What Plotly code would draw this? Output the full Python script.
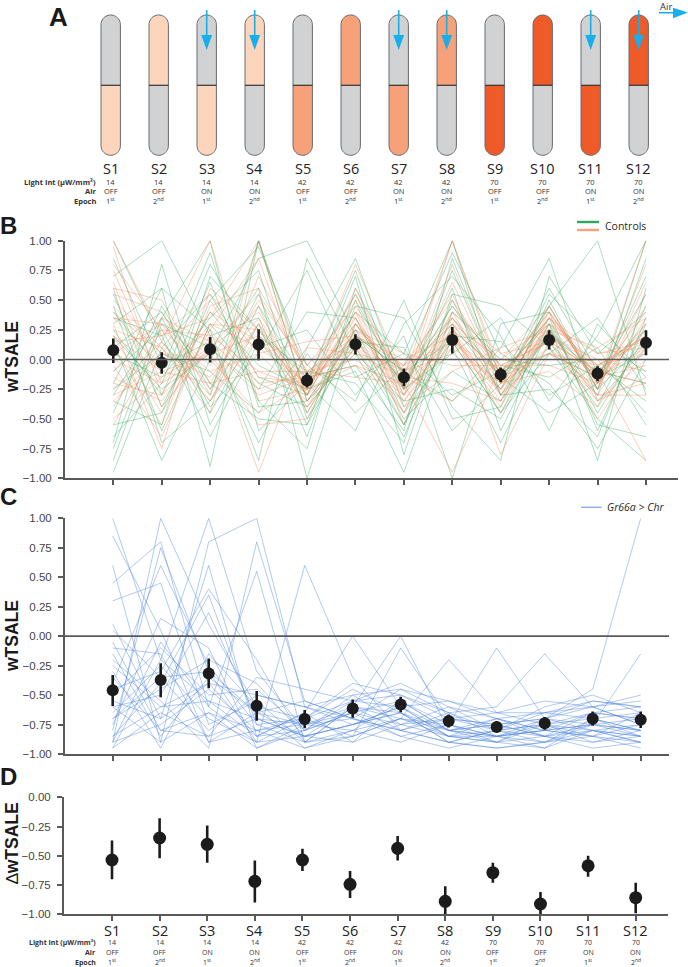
import numpy as np
import plotly.graph_objects as go

W, H = 688, 967

# ---------------- data ----------------
sessions = ["S1", "S2", "S3", "S4", "S5", "S6", "S7", "S8", "S9", "S10", "S11", "S12"]
light_int = ["14", "14", "14", "14", "42", "42", "42", "42", "70", "70", "70", "70"]
air_state = ["OFF", "OFF", "ON", "ON", "OFF", "OFF", "ON", "ON", "OFF", "OFF", "ON", "ON"]
epoch_num = ["1", "2", "1", "2", "1", "2", "1", "2", "1", "2", "1", "2"]
epoch_suf = ["st", "nd", "st", "nd", "st", "nd", "st", "nd", "st", "nd", "st", "nd"]
lit_half = ["bottom", "top", "bottom", "top", "bottom", "top", "bottom", "top", "bottom", "top", "bottom", "top"]

# Panel B: controls, mean and 95% CI
b_mean = [0.078, -0.028, 0.087, 0.126, -0.177, 0.129, -0.149, 0.165, -0.127, 0.165, -0.118, 0.140]
b_hi = [0.177, 0.060, 0.190, 0.255, -0.110, 0.213, -0.076, 0.274, -0.067, 0.247, -0.056, 0.247]
b_lo = [-0.030, -0.120, -0.025, -0.006, -0.236, 0.042, -0.225, 0.050, -0.190, 0.084, -0.183, 0.036]

# Panel C: Gr66a > Chr
c_mean = [-0.460, -0.373, -0.316, -0.590, -0.703, -0.613, -0.580, -0.720, -0.770, -0.740, -0.700, -0.710]
c_hi = [-0.330, -0.229, -0.190, -0.466, -0.627, -0.537, -0.515, -0.665, -0.725, -0.685, -0.640, -0.640]
c_lo = [-0.593, -0.519, -0.443, -0.718, -0.782, -0.692, -0.645, -0.775, -0.815, -0.795, -0.760, -0.780]

# Panel D: delta wTSALE
d_mean = [-0.536, -0.348, -0.402, -0.718, -0.536, -0.744, -0.436, -0.889, -0.644, -0.912, -0.585, -0.858]
d_hi = [-0.370, -0.180, -0.240, -0.540, -0.440, -0.630, -0.330, -0.760, -0.560, -0.810, -0.500, -0.730]
d_lo = [-0.700, -0.520, -0.560, -0.900, -0.630, -0.860, -0.540, -1.020, -0.730, -1.010, -0.680, -0.990]

# individual flies, controls (green)
controls_green = [
    [1.00, 0.15, -0.30, 1.00, -0.15, 0.55, -0.30, 0.75, -0.20, 0.45, -0.25, 1.00],
    [0.45, -0.60, 0.30, -0.20, -0.40, 0.10, -0.55, 0.25, -0.10, 0.30, -0.45, 0.20],
    [-0.95, 0.10, 0.55, -0.15, -0.30, 0.40, 0.05, 1.00, -0.30, 0.20, -0.10, -0.20],
    [0.70, 1.00, 0.20, 0.35, -0.55, 0.20, -0.10, -0.35, 0.10, 0.85, -0.35, 0.10],
    [-0.30, 0.35, 1.00, -0.60, -0.20, 0.75, -0.40, 0.15, -0.45, 0.05, -0.15, 0.55],
    [0.15, -0.85, 0.00, 0.60, -1.00, 0.30, -0.20, 0.45, -0.05, -0.15, 0.10, -0.55],
    [-0.65, -0.20, 0.80, 0.10, 0.25, -0.30, 0.20, -1.00, 0.30, 0.40, -0.60, 0.30],
    [0.30, 0.60, -0.90, 1.00, -0.35, 0.05, -0.65, 0.30, -0.25, 0.55, 0.15, -0.10],
    [-0.25, 0.05, -0.10, -0.45, 0.10, 0.85, -0.25, 0.60, -0.60, 0.25, -0.30, 0.85],
    [0.55, -0.40, 0.40, -0.05, -0.25, -0.10, -0.95, 0.20, 0.15, -0.30, -0.05, -0.35],
    [-0.10, 0.25, -0.45, 0.30, -0.65, 0.45, 0.35, -0.40, -0.85, 0.70, 0.05, 0.40],
    [0.85, -0.05, 0.15, -0.70, 0.05, -0.45, -0.05, 0.90, 0.05, -0.20, -0.75, 0.00],
    [-0.45, 0.45, -0.25, 0.55, -0.45, 0.25, -0.50, -0.10, -0.35, 0.45, 1.00, -0.30],
    [0.25, -0.30, 0.65, -0.35, -0.75, 0.60, -0.15, 0.35, -0.15, -0.45, -0.20, 0.70],
    [-0.70, 0.80, -0.55, 0.20, -0.10, -0.20, -0.70, 0.55, 0.45, 0.10, -0.50, -0.85],
    [0.05, -0.15, 0.35, 0.75, -0.50, 0.15, 0.10, -0.60, -0.20, 0.60, -0.10, 0.25],
    [-0.85, 0.30, 0.10, -0.25, 0.40, 0.35, -0.45, 0.10, -0.70, 0.15, -0.40, 0.45],
    [0.60, -0.70, -0.35, 0.45, -0.20, -0.60, 0.30, 0.70, 0.20, -0.60, 0.30, -0.15],
    [-0.20, 0.60, 0.25, -0.85, 0.85, 0.05, -0.35, -0.25, -0.50, 0.30, -0.85, 0.60],
    [0.35, 0.20, -0.65, 0.15, -0.30, 0.70, -0.80, 0.40, 0.00, -0.05, 0.00, -0.45],
    [-0.55, -0.45, 0.50, 0.95, -0.05, -0.35, 0.50, -0.50, -0.40, 0.50, -0.25, 0.15],
    [0.10, 0.40, -0.20, -0.50, -0.55, 0.50, -0.25, 0.05, 0.35, -0.35, 0.20, 1.00],
    [-0.35, -0.55, 0.70, 0.25, -0.15, -0.05, -0.60, 0.85, -0.15, 0.35, -0.55, -0.65],
    [0.20, -0.25, 0.05, 0.85, 1.00, 0.20, -0.10, 0.15, -0.45, 0.25, -0.15, 0.05],
    [-0.75, 0.35, -0.40, 0.05, 0.75, -0.15, 0.05, -0.30, -0.10, 0.05, 0.35, -0.25],
    [0.40, -0.10, 0.90, -0.40, -0.35, 0.20, -0.55, 0.50, -0.30, -0.25, -0.65, 0.35],
]

# individual flies, controls (orange)
controls_orange = [
    [1.00, 0.20, 0.35, 1.00, -0.20, 0.80, -0.15, 1.00, -0.10, 0.40, -0.20, 1.00],
    [0.95, -0.30, 0.10, 0.40, -0.25, 0.30, -0.20, 0.45, -0.15, 0.35, -0.05, 0.20],
    [0.60, 0.50, -0.20, -0.10, -0.10, 0.15, -0.30, 0.20, -0.25, 0.20, -0.15, 0.10],
    [0.30, -0.75, 0.60, 0.25, -0.30, 0.40, -0.10, 0.30, 0.00, 0.45, -0.20, 0.25],
    [0.25, 0.10, -0.45, 1.00, -0.35, 0.10, -0.25, 0.65, -0.20, 0.05, -0.30, 0.35],
    [-0.10, 0.35, 0.15, -0.20, -0.15, 0.25, 0.05, -0.05, -0.05, 0.15, -0.10, -0.20],
    [0.75, -0.20, 0.30, 0.10, -0.20, 0.55, -0.20, 0.25, -0.30, 0.30, 0.05, 0.15],
    [-0.25, 0.15, 1.00, -0.35, -0.25, -0.05, -0.35, 0.15, -0.20, 0.10, -0.25, 0.55],
    [0.10, -0.55, 0.45, 0.60, -0.10, 0.20, -0.05, 0.50, -0.10, 0.25, -0.35, 0.00],
    [0.45, 0.05, -0.15, 0.35, -0.30, 0.35, -0.25, 1.00, -0.15, 0.40, -0.15, 0.30],
    [-0.40, 0.25, 0.20, -0.95, 0.10, 0.05, -0.15, -0.20, -0.35, 0.20, 0.00, -0.10],
    [0.20, -0.10, 0.05, 0.20, -0.40, 0.10, -0.45, 0.35, -0.05, -0.05, -0.20, 0.45],
    [0.55, 0.40, -0.30, 0.70, -0.05, 0.45, -0.10, 0.05, -0.25, 0.35, -0.10, 0.20],
    [-0.20, -0.30, 0.40, 0.15, -0.20, 0.30, -0.30, 0.40, 0.05, 0.15, -0.30, -0.30],
    [0.05, 0.30, -0.05, 0.45, -0.45, 0.20, 0.00, 0.20, -0.40, 0.30, -0.05, 0.15],
    [0.35, -0.05, 0.25, -0.25, -0.10, -0.15, -0.20, 0.30, -0.15, 0.05, -0.15, -0.05],
    [-0.55, 0.15, -0.35, 0.30, -0.25, 0.40, -0.40, -0.10, 0.10, 0.25, 0.10, 0.35],
    [0.65, -0.40, 0.10, -0.30, -0.15, 0.10, -0.10, 0.55, -0.30, 0.10, -0.35, -0.15],
    [0.15, 0.20, 0.55, 0.05, -0.35, 0.25, -0.25, 0.10, -0.20, 0.45, -0.25, 0.80],
    [-0.30, -0.10, -0.20, 0.50, -0.05, 0.35, -0.35, 0.25, -0.10, 0.20, -0.05, 0.05],
    [0.40, 0.05, 0.00, -0.45, -0.20, 0.15, -0.15, -0.35, 0.00, 0.30, -0.20, 0.25],
    [-0.05, -0.65, 0.30, 0.25, -0.30, 0.05, -0.05, 0.35, -0.20, -0.10, -0.40, 0.15],
    [0.80, 0.25, -0.10, 0.05, 0.15, 0.20, -0.20, 0.15, -0.25, 0.35, -0.15, 0.40],
    [-0.15, -0.35, 0.20, -0.10, -0.25, 0.50, -0.55, 0.20, -0.35, 0.25, -0.50, 0.10],
    [0.50, 0.10, -0.35, 0.20, -0.15, -0.05, -0.20, -0.95, -0.05, 0.15, -0.10, -0.85],
    [0.00, -0.20, 0.05, -0.55, -0.50, 0.30, -0.10, 0.30, -0.80, 0.05, -0.05, 0.20],
    [0.20, -0.45, 0.25, 0.85, -0.30, 0.60, -0.25, 0.80, -0.20, 0.25, -0.25, 0.65],
    [-0.35, 0.05, 0.50, -0.15, -0.20, 0.20, -0.45, 0.40, -0.30, 0.40, -0.20, 0.30],
    [0.35, 0.30, -0.25, 0.30, -0.40, 0.25, -0.05, 0.15, -0.10, 0.15, -0.30, -0.20],
    [-0.50, -0.15, 0.10, 0.55, -0.10, 0.00, -0.30, 0.25, -0.45, 0.35, 0.05, 0.10],
]

# individual flies, Gr66a > Chr (blue)
gr66a_flies = [
    [1.00, -0.20, -0.55, -0.70, -0.85, -0.75, -0.60, -0.80, -0.85, -0.90, -0.75, -0.80],
    [0.85, 0.05, -0.90, -0.80, -0.75, -0.70, -0.80, -0.90, -0.80, -0.85, -0.90, -0.85],
    [-0.90, 1.00, 0.10, -0.60, -0.95, -0.80, -0.70, -0.85, -0.90, -0.75, -0.80, -0.90],
    [-0.95, -0.20, 1.00, -0.30, -0.80, -0.65, -0.55, -0.75, -0.85, -0.80, -0.65, -0.70],
    [0.45, 0.80, -0.60, -0.90, -0.70, -0.55, -0.50, -0.70, -0.75, -0.70, -0.60, -0.75],
    [-0.60, -0.90, 0.80, 1.00, -0.60, -0.75, -0.65, -0.80, -0.70, -0.85, -0.75, -0.80],
    [-0.80, 0.75, -0.30, -0.90, 0.60, -0.35, -0.80, -0.90, -0.95, -0.90, -0.85, -0.95],
    [-0.20, -0.55, -0.95, 0.80, -0.55, -0.70, -0.45, -0.65, -0.80, -0.75, -0.70, -0.65],
    [-0.45, -0.30, 0.40, -0.20, -0.90, -0.60, 0.00, -0.80, -0.85, -0.70, -0.55, -0.60],
    [0.10, -0.70, -0.40, -0.85, -0.65, 0.00, -0.60, -0.55, -0.70, -0.80, -0.75, -0.85],
    [-0.70, -0.45, -0.20, -0.40, -0.85, -0.90, -0.75, -0.85, -0.90, -0.95, -0.80, -0.85],
    [-0.35, -0.80, -0.65, -0.95, -0.75, -0.60, -0.70, -0.20, -0.65, -0.55, -0.60, -0.75],
    [0.30, 0.45, -0.75, -0.55, -0.90, -0.85, -0.10, -0.70, -0.75, -0.85, -0.65, -0.70],
    [-0.85, -0.40, 0.35, -0.75, -0.70, -0.45, -0.65, -0.90, -0.80, -0.75, -0.90, -0.80],
    [-0.50, -0.10, -0.50, -0.45, -0.80, -0.65, -0.85, -0.75, -0.10, -0.70, -0.80, -0.75],
    [-0.95, -0.65, -0.85, -0.35, -0.45, -0.55, -0.40, -0.60, -0.70, -0.65, -0.55, -0.60],
    [-0.15, -0.85, -0.35, -0.65, -0.85, -0.75, -0.60, -0.85, -0.85, -0.80, -0.85, -0.90],
    [-0.75, 0.15, -0.10, -0.95, -0.80, -0.50, -0.75, -0.70, -0.80, -0.90, -0.70, -0.80],
    [-0.60, -0.50, 0.20, -0.70, -0.75, -0.80, -0.55, -0.80, -0.75, -0.70, -0.45, 1.00],
    [0.05, -0.35, -0.80, -0.50, -0.60, -0.70, -0.85, -0.95, -0.85, -0.80, -0.75, -0.70],
    [-0.90, -0.75, -0.45, -0.80, -0.95, -0.85, -0.70, -0.75, -0.90, -0.85, -0.95, -0.90],
    [-0.30, -0.95, -0.15, -0.60, -0.70, -0.40, -0.50, -0.65, -0.60, -0.15, -0.60, -0.55],
    [-0.65, -0.25, -0.70, -0.90, -0.85, -0.75, -0.65, -0.90, -0.95, -0.90, -0.80, -0.85],
    [-0.40, 0.60, -0.25, -0.75, -0.90, -0.60, -0.80, -0.70, -0.65, -0.75, -0.85, -0.65],
    [-0.85, -0.60, -0.55, -0.85, -0.65, -0.90, -0.55, -0.80, -0.90, -0.70, -0.75, -0.15],
    [-0.10, -0.15, -0.90, -0.65, -0.75, -0.65, -0.75, -0.60, -0.80, -0.60, -0.50, -0.65],
    [-0.55, -0.70, 0.60, -0.85, -0.80, -0.55, -0.60, -0.85, -0.70, -0.80, -0.85, -0.75],
    [-0.90, -0.05, -0.60, 0.55, -0.90, -0.80, -0.90, -0.75, -0.85, -0.95, -0.70, -0.85],
    [-0.25, -0.60, -0.40, -0.50, -0.60, -0.50, -0.45, -0.55, -0.65, -0.65, -0.60, -0.50],
    [0.60, -0.90, -0.65, -0.80, -0.70, -0.85, -0.70, -0.80, -0.75, -0.85, -0.80, -0.90],
    [-0.70, -0.35, -0.30, -0.65, -0.55, -0.70, -0.80, -0.65, -0.85, -0.75, -0.65, -0.60],
    [-0.05, -0.80, -0.85, -0.70, -0.85, -0.60, -0.65, -0.85, -0.80, -0.65, -0.70, -0.80],
]

y_ticks_bc = [-1.0, -0.75, -0.5, -0.25, 0.0, 0.25, 0.5, 0.75, 1.0]
y_ticks_d = [-1.0, -0.75, -0.5, -0.25, 0.0]

# ---------------- style ----------------
GREEN = "rgba(30,160,80,0.45)"
ORANGE = "rgba(245,135,90,0.5)"
BLUE = "rgba(75,130,220,0.55)"
DOT = "#1c1c1c"
AXC = "#595959"
LIGHT_COL = {"14": "#fdd5bd", "42": "#f6a179", "70": "#ef5a29"}
TUBE_GREY = "#d1d2d4"
AIR_BLUE = "#18aeea"
SANS = "Liberation Sans, Arial, sans-serif"
MYR = "Open Sans, Noto Sans, sans-serif"


def px(x):
    return x / W


def py(y):
    return 1 - y / H


def ydom(top, bot):
    return [1 - bot / H, 1 - top / H]


def xgeom(left, right, first, last, n=12):
    s = (last - first) / (n - 1)
    return [left / W, right / W], [(left - first) / s, (right - first) / s]


idx = list(range(len(sessions)))

fig = go.Figure()

# ---------- panel B spaghetti ----------
for k in range(max(len(controls_green), len(controls_orange))):
    if k < len(controls_green):
        fig.add_trace(go.Scatter(x=idx, y=controls_green[k], mode="lines",
                                 line=dict(color=GREEN, width=0.8), hoverinfo="skip",
                                 showlegend=False, xaxis="x", yaxis="y"))
    if k < len(controls_orange):
        fig.add_trace(go.Scatter(x=idx, y=controls_orange[k], mode="lines",
                                 line=dict(color=ORANGE, width=0.8), hoverinfo="skip",
                                 showlegend=False, xaxis="x", yaxis="y"))

for fly in gr66a_flies:
    fig.add_trace(go.Scatter(x=idx, y=fly, mode="lines",
                             line=dict(color=BLUE, width=0.8), hoverinfo="skip",
                             showlegend=False, xaxis="x2", yaxis="y2"))


def mean_trace(mean, hi, lo, xa, ya, size):
    up = [h - m for h, m in zip(hi, mean)]
    dn = [m - l for m, l in zip(mean, lo)]
    return go.Scatter(x=idx, y=mean, mode="markers",
                      marker=dict(color=DOT, size=size),
                      error_y=dict(type="data", symmetric=False, array=up, arrayminus=dn,
                                   color=DOT, thickness=2.6, width=0),
                      showlegend=False, xaxis=xa, yaxis=ya)


fig.add_trace(mean_trace(b_mean, b_hi, b_lo, "x", "y", 12))
fig.add_trace(mean_trace(c_mean, c_hi, c_lo, "x2", "y2", 12))
fig.add_trace(mean_trace(d_mean, d_hi, d_lo, "x3", "y3", 13))

# ---------- axes ----------
xB_dom, xB_rng = xgeom(65, 678, 113.3, 646)
xC_dom, xC_rng = xgeom(65, 669, 112.7, 640.7)
xD_dom, xD_rng = xgeom(64, 668, 112, 635.7)
xA_dom, xA_rng = xgeom(0, W, 110.7, 638.7)

common_x = dict(tickvals=idx, showticklabels=False, ticks="outside", ticklen=5, tickwidth=2,
                tickcolor=AXC, showline=True, linecolor=AXC, linewidth=2, showgrid=False,
                zeroline=False, fixedrange=True, automargin=False)
common_y = dict(ticks="outside", ticklen=5, tickwidth=2, tickcolor=AXC, showline=True,
                linecolor=AXC, linewidth=2, showgrid=False, zeroline=False, tickformat=".2f",
                tickfont=dict(family=SANS, size=11.5, color="#444"), fixedrange=True,
                ticklabelstandoff=4, automargin=False)

fig.update_layout(
    width=W, height=H, autosize=False,
    margin=dict(l=0, r=0, t=0, b=0, pad=0, autoexpand=False),
    paper_bgcolor="white", plot_bgcolor="white",
    showlegend=False,
    xaxis=dict(domain=xB_dom, range=xB_rng, anchor="y", **common_x),
    yaxis=dict(domain=ydom(240.7, 478.3), range=[-1, 1], tickvals=y_ticks_bc, anchor="x", **common_y),
    xaxis2=dict(domain=xC_dom, range=xC_rng, anchor="y2", **common_x),
    yaxis2=dict(domain=ydom(518.3, 754), range=[-1, 1], tickvals=y_ticks_bc, anchor="x2", **common_y),
    xaxis3=dict(domain=xD_dom, range=xD_rng, anchor="y3", **common_x),
    yaxis3=dict(domain=ydom(797.3, 914.3), range=[-1, 0], tickvals=y_ticks_d, anchor="x3", **common_y),
    xaxis4=dict(domain=xA_dom, range=xA_rng, anchor="y4", visible=False, fixedrange=True, automargin=False),
    yaxis4=dict(domain=ydom(0, 160), range=[160, 0], anchor="x4", visible=False, fixedrange=True, automargin=False),
)

shapes = []
# zero lines
shapes.append(dict(type="line", xref="paper", yref="y", x0=px(65), x1=px(669), y0=0, y1=0,
                   line=dict(color=AXC, width=1.6), layer="above"))
shapes.append(dict(type="line", xref="paper", yref="y2", x0=px(65), x1=px(669), y0=0, y1=0,
                   line=dict(color=AXC, width=1.6), layer="above"))

# ---------- panel A tubes ----------
sx = (638.7 - 110.7) / 11.0  # px per index unit on x4
rx = 9.7 / sx
ry = 9.7
t_top, t_bot, t_mid = 15.0, 155.3, 85.3


def path_from(pts):
    return "M " + " L ".join(f"{a:.4f},{b:.3f}" for a, b in pts) + " Z"


for i in idx:
    th = np.linspace(np.pi, 0, 25)
    top_arc = [(i + rx * np.cos(t), t_top + ry - ry * np.sin(t)) for t in th]
    th2 = np.linspace(np.pi, 2 * np.pi, 25)
    bot_arc = [(i + rx * np.cos(t), t_bot - ry - ry * np.sin(t)) for t in th2]
    top_pts = [(i - rx, t_mid)] + top_arc + [(i + rx, t_mid)]
    bot_pts = [(i - rx, t_mid)] + bot_arc + [(i + rx, t_mid)]
    lit = LIGHT_COL[light_int[i]]
    top_col = lit if lit_half[i] == "top" else TUBE_GREY
    bot_col = lit if lit_half[i] == "bottom" else TUBE_GREY
    shapes.append(dict(type="path", xref="x4", yref="y4", path=path_from(top_pts),
                       fillcolor=top_col, line=dict(width=0)))
    shapes.append(dict(type="path", xref="x4", yref="y4", path=path_from(bot_pts),
                       fillcolor=bot_col, line=dict(width=0)))
    full = [(i - rx, t_top + ry)] + top_arc + [(i + rx, t_bot - ry)] + \
        [(i + rx * np.cos(t), t_bot - ry - ry * np.sin(t)) for t in np.linspace(2 * np.pi, np.pi, 25)]
    shapes.append(dict(type="path", xref="x4", yref="y4", path=path_from(full),
                       fillcolor="rgba(0,0,0,0)", line=dict(color="#6a6a6a", width=1)))
    shapes.append(dict(type="line", xref="x4", yref="y4", x0=i - rx, x1=i + rx, y0=t_mid, y1=t_mid,
                       line=dict(color="#333333", width=1.2)))
    if air_state[i] == "ON":
        shapes.append(dict(type="line", xref="x4", yref="y4", x0=i, x1=i, y0=10, y1=38,
                           line=dict(color=AIR_BLUE, width=1.6)))
        hw = 5.4 / sx
        shapes.append(dict(type="path", xref="x4", yref="y4",
                           path=path_from([(i - hw, 35), (i + hw, 35), (i, 50)]),
                           fillcolor=AIR_BLUE, line=dict(width=0)))

# Air legend arrow (top right)
shapes.append(dict(type="line", xref="paper", yref="paper", x0=px(659), x1=px(676),
                   y0=py(12.7), y1=py(12.7), line=dict(color=AIR_BLUE, width=1.6)))
shapes.append(dict(type="path", xref="paper", yref="paper",
                   path=path_from([(px(673), py(7.3)), (px(673), py(18.1)), (px(688), py(12.7))]),
                   fillcolor=AIR_BLUE, line=dict(width=0)))

# legend glyphs
shapes.append(dict(type="line", xref="paper", yref="paper", x0=px(577), x1=px(599),
                   y0=py(222), y1=py(222), line=dict(color="#2aa860", width=2.4)))
shapes.append(dict(type="line", xref="paper", yref="paper", x0=px(577), x1=px(599),
                   y0=py(230), y1=py(230), line=dict(color="#f5a27c", width=2.4)))
shapes.append(dict(type="line", xref="paper", yref="paper", x0=px(581), x1=px(601.5),
                   y0=py(507.3), y1=py(507.3), line=dict(color="#86a9e2", width=1.3)))

fig.update_layout(shapes=shapes)

# ---------- annotations ----------
ann = []


def txt(x, y, s, size, family=MYR, color="#222", xanchor="center", angle=0):
    ann.append(dict(x=x, y=py(y), xref="paper", yref="paper", text=s, showarrow=False,
                    font=dict(family=family, size=size, color=color), xanchor=xanchor,
                    yanchor="middle", textangle=angle))


# panel letters
txt(px(58.5), 16.5, "<b>A</b>", 26, family=SANS, color="#1a1a1a")
txt(px(8), 226, "<b>B</b>", 24, family=SANS, color="#1a1a1a")
txt(px(8), 496, "<b>C</b>", 24, family=SANS, color="#1a1a1a")
txt(px(8), 776, "<b>D</b>", 24, family=SANS, color="#1a1a1a")

# y titles
txt(px(12), 357, "<b>wTSALE</b>", 17.5, family=SANS, color="#1a1a1a", angle=-90)
txt(px(12), 636, "<b>wTSALE</b>", 17.5, family=SANS, color="#1a1a1a", angle=-90)
txt(px(12), 843, "∆<b>wTSALE</b>", 17.5, family=SANS, color="#1a1a1a", angle=-90)

# Air legend text
txt(px(665.5), 6, "Air", 9.5, color="#333")

# legends
txt(px(603), 225.7, "Controls", 10.5, color="#2a2a2a", xanchor="left")
txt(px(605), 507.3, "<i>Gr66a &gt; Chr</i>", 10.5, color="#2a2a2a", xanchor="left")


def session_rows(xref, y_s, y_rows, s_size, r_size):
    for i in idx:
        ann.append(dict(x=i, y=py(y_s), xref=xref, yref="paper", text=sessions[i], showarrow=False,
                        font=dict(family=MYR, size=s_size, color="#222"), xanchor="center",
                        yanchor="middle"))
        vals = [light_int[i], air_state[i], f"{epoch_num[i]}<sup>{epoch_suf[i]}</sup>"]
        for v, yy in zip(vals, y_rows):
            ann.append(dict(x=i, y=py(yy), xref=xref, yref="paper", text=v, showarrow=False,
                            font=dict(family=MYR, size=r_size, color="#333"), xanchor="center",
                            yanchor="middle"))
    for lab, yy in zip(["Light Int (µW/mm²)", "Air", "Epoch"], y_rows):
        txt(px(98), yy, f"<b>{lab}</b>", r_size, color="#333", xanchor="right")


session_rows("x4", 168, [181.5, 191, 200.5], 14.5, 7.5)
session_rows("x3", 930, [942.5, 952.5, 962], 14.5, 7)

fig.update_layout(annotations=ann)

fig.write_html("out.html", config={"displayModeBar": False},
               post_script="document.body.style.margin='0';document.body.style.padding='0';"
                           "document.documentElement.style.overflow='hidden';")
